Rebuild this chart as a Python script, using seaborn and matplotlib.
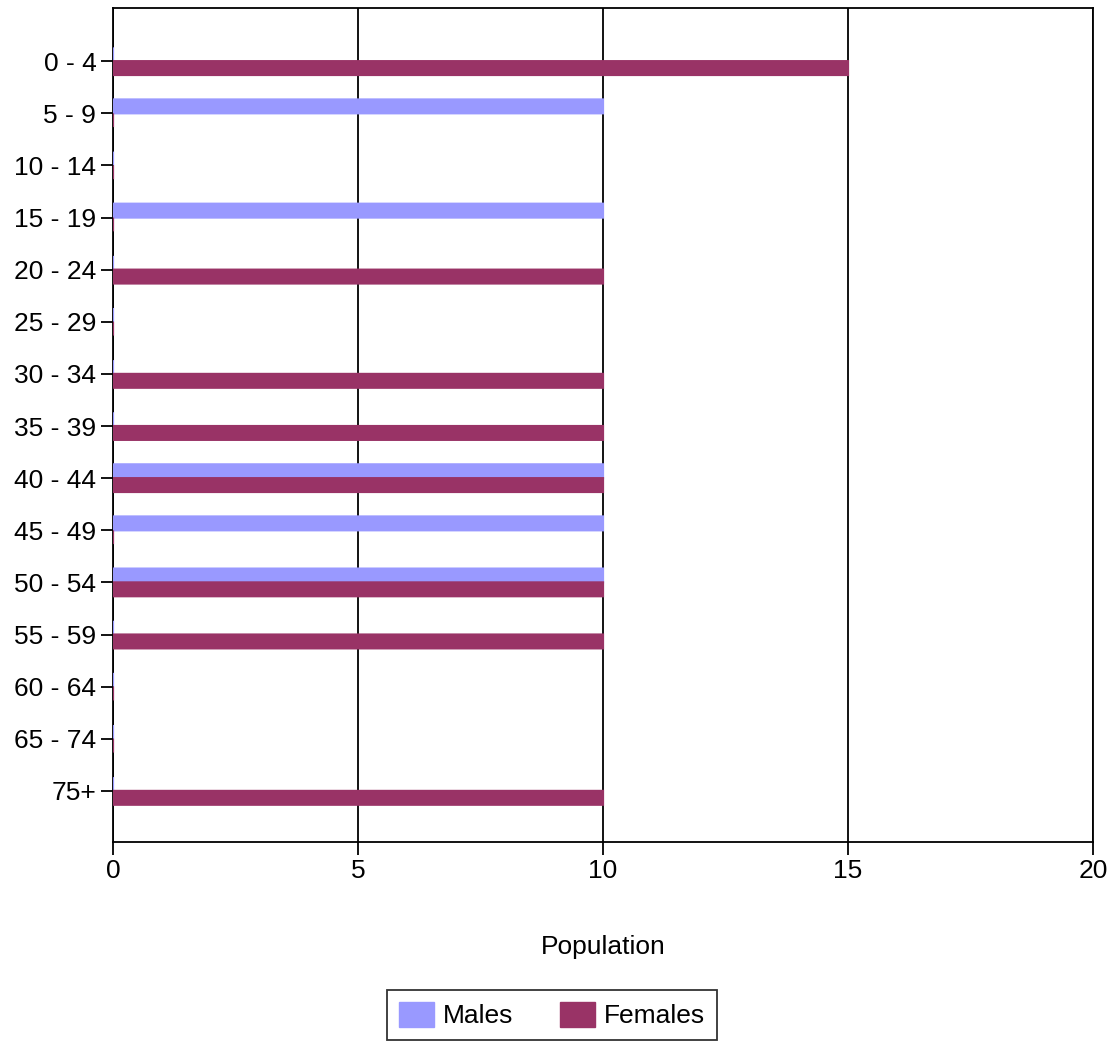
import matplotlib
matplotlib.use("Agg")
import matplotlib.pyplot as plt
import seaborn as sns
import pandas as pd

# age groups and population counts
age_groups = ["0 - 4", "5 - 9", "10 - 14", "15 - 19", "20 - 24", "25 - 29", "30 - 34",
              "35 - 39", "40 - 44", "45 - 49", "50 - 54", "55 - 59", "60 - 64",
              "65 - 74", "75+"]
males = [0, 10, 0, 10, 0, 0, 0, 0, 10, 10, 10, 0, 0, 0, 0]
females = [15, 0, 0, 0, 10, 0, 10, 10, 10, 0, 10, 10, 0, 0, 10]
series = ["Males", "Females"]
colors = ["#9999FF", "#993366"]

df = pd.DataFrame({
    "age": age_groups * 2,
    "pop": males + females,
    "sex": [series[0]] * len(age_groups) + [series[1]] * len(age_groups),
})

sns.set_style("white")
plt.rcParams["font.family"] = ["Liberation Sans", "DejaVu Sans"]
plt.rcParams["text.color"] = "black"
plt.rcParams["axes.labelcolor"] = "black"

fig = plt.figure(figsize=(11.15, 10.43), dpi=100)
ax = fig.add_axes([113 / 1115, 1 - 842 / 1043, 980 / 1115, 834 / 1043])

sns.barplot(data=df, y="age", x="pop", hue="sex", order=age_groups,
            hue_order=series, palette=colors, orient="h", width=0.53,
            dodge=True, ax=ax, legend=False, saturation=1,
            linewidth=1.6)
# zero-valued bars still show as a thin sliver on the axis, as in the original
for bars, c in zip(ax.containers, colors):
    for b in bars:
        b.set_edgecolor(c)
        b.set_snap(False)
        b.set_zorder(3)

ax.set_xlim(0, 20)
ax.set_ylim(14.98, -1.02)
ax.set_xticks([0, 5, 10, 15, 20])
ax.set_axisbelow(True)
ax.grid(axis="x", color="black", linewidth=1.3)
ax.grid(axis="y", visible=False)
for s in ax.spines.values():
    s.set_color("black")
    s.set_linewidth(1.3)
ax.tick_params(axis="both", direction="out", length=9, width=1.3, color="black",
               labelsize=19, labelcolor="black", left=True, bottom=True, pad=3)
ax.set_ylabel("")
ax.set_xlabel("Population", fontsize=19, labelpad=38)

handles = [plt.Rectangle((0, 0), 1, 1, color=c) for c in colors]
leg = fig.legend(handles, series, loc="upper center",
                 bbox_to_anchor=(552 / 1115, 1 - 990 / 1043), ncol=2, fontsize=19,
                 frameon=True, fancybox=False, edgecolor="black",
                 handlelength=1.33, handleheight=1.06, columnspacing=1.75,
                 handletextpad=0.35, borderpad=0.45, borderaxespad=0)
leg.get_frame().set_linewidth(1.3)

fig.savefig("out.png", dpi=100)
